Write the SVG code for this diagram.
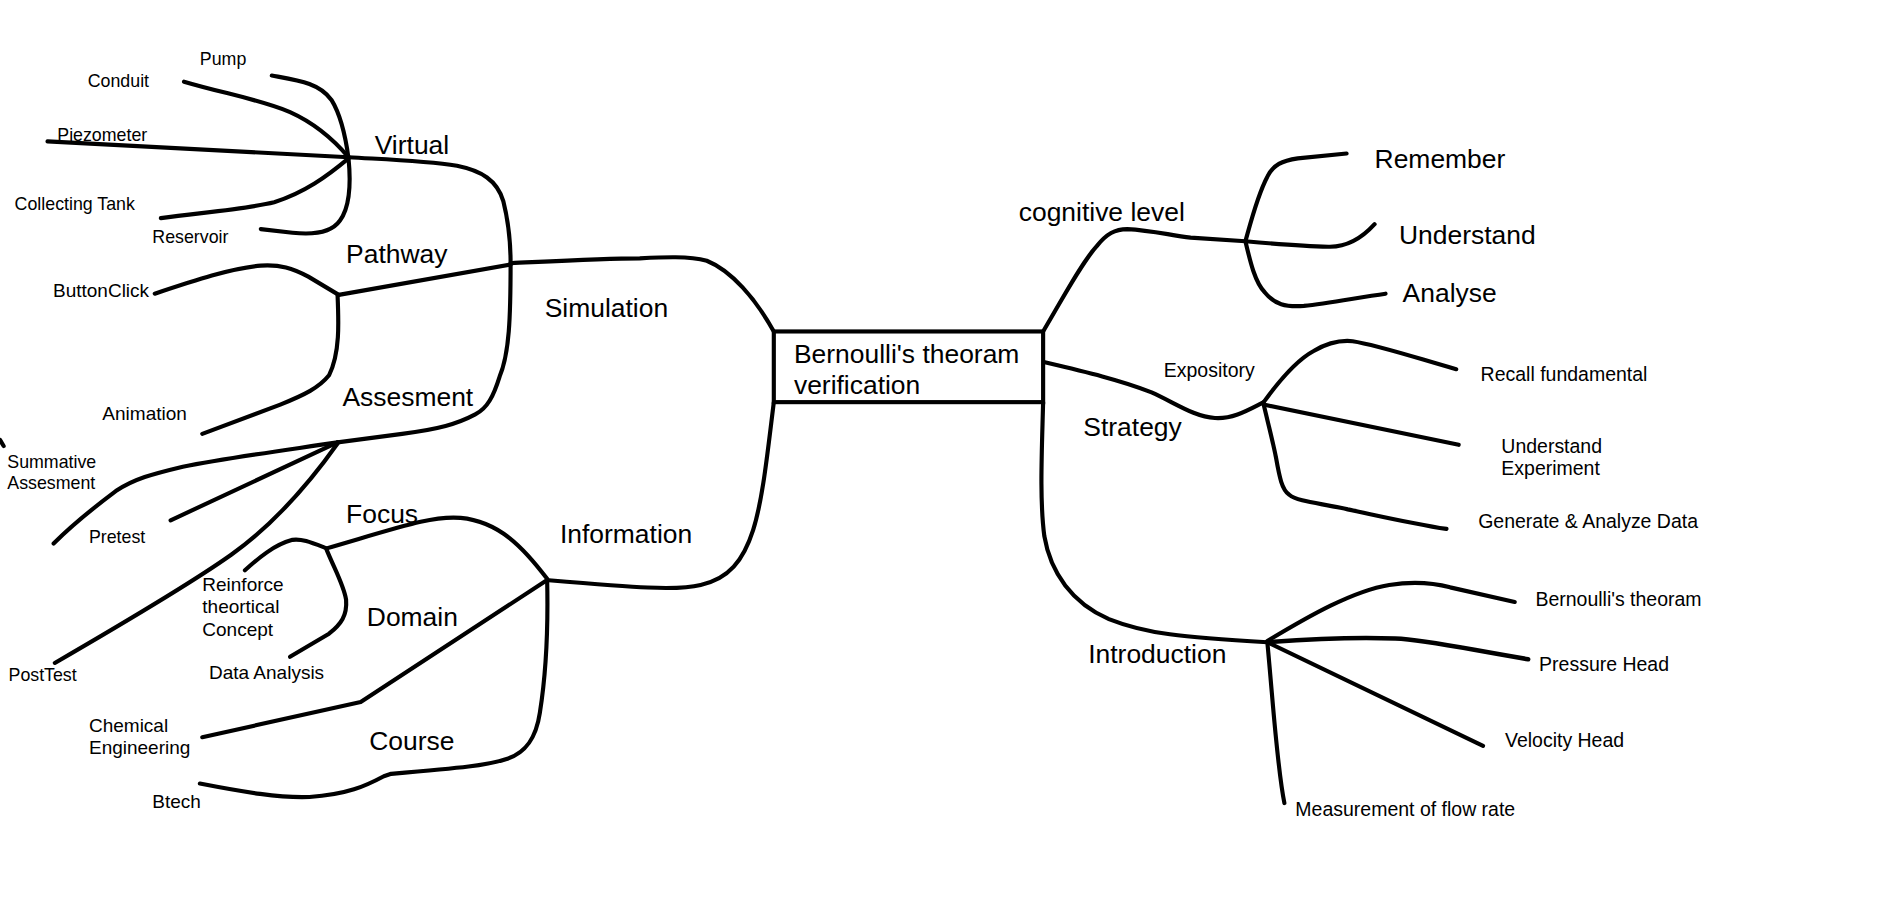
<svg xmlns="http://www.w3.org/2000/svg" width="1901" height="903" viewBox="0 0 1901 903">
<style>
.c{fill:none;stroke:#000;stroke-width:3.4;stroke-linecap:round;stroke-linejoin:round}
text{font-family:"Liberation Sans",Arial,sans-serif;fill:#000}
.big{font-size:21.7px}
.a{font-size:14.6px}
.b{font-size:15.6px}
.r{font-size:16px}
</style>
<rect width="1901" height="903" fill="#fff"/>
<g transform="scale(1.2186)">
<g id="connectors" class="c">
<path d="M635,272 C620,245 600,222 580,214 C565,210 545,211 525,212 C495,212 460,214 419,216"/>
<path d="M286,129 C320,131 350,132 375,136 C395,140 408,148 413,165 C418,185 419,200 419,216 C419,260 418,290 410,309 C405,325 400,335 390,340 C375,348 360,352 330,356 L277,363"/>
<path d="M419,217 L278,242"/>
<path d="M127,241 C160,230 190,220 214,218 C230,217 240,220 253,227 L278,242"/>
<path d="M277,242 C278,265 279,290 270,308 C262,318 250,324 230,332 L166,356"/>
<path d="M223,62 C245,66 262,68 272,82 C280,95 284,115 286,130 C288,150 287,170 279,181 C272,191 258,193 240,191 L214,188"/>
<path d="M151,67 C185,77 215,82 238,92 C258,101 275,116 286,129"/>
<path d="M39,116 L286,129"/>
<path d="M132,179 C170,174 205,171 225,166 C250,158 268,145 286,130"/>
<path d="M277,363 C230,370 185,376 150,383 C125,389 110,393 95,403 C75,418 60,430 44,446"/>
<path d="M277,363 L140,427"/>
<path d="M277,364 C255,395 225,430 190,455 C155,480 95,515 45,544"/>
<path d="M0,361 L3,366"/>
<path d="M635,330 C630,370 626,410 618,435 C610,460 598,475 575,480 C555,485 520,482 449,476"/>
<path d="M449,475 C430,450 410,428 378,425 C355,423 330,432 268,450"/>
<path d="M268,450 C255,445 248,442 240,443 C225,447 212,458 201,468"/>
<path d="M268,451 C275,468 282,480 284,492 C285,505 280,512 270,520 L238,539"/>
<path d="M449,476 L296,576 L166,605"/>
<path d="M449,476 C450,520 447,560 443,585 C440,605 432,618 415,623 C400,628 380,630 321,635 L315,637 C300,645 285,652 254,654 C230,655 200,650 164,643"/>
<path d="M856,272 C872,245 888,215 900,202 C908,192 915,188 925,188 C945,189 960,193 977,195 L1022,198"/>
<path d="M1022,198 C1027,180 1032,160 1040,145 C1045,135 1052,132 1065,130 L1105,126"/>
<path d="M1022,198 C1045,200 1070,202 1090,202.5 C1105,203 1118,195 1128,184"/>
<path d="M1022,198 C1026,215 1030,232 1038,240 C1046,250 1055,252 1070,251 C1090,249 1115,244 1137,241"/>
<path d="M856,297 C890,305 920,312 945,322 C965,331 980,342 997,343 C1012,344 1025,336 1037,330"/>
<path d="M1037,330 C1050,312 1065,295 1078,288 C1090,281 1100,279 1110,280 C1130,283 1160,293 1195,303"/>
<path d="M1037,332 L1197,365"/>
<path d="M1037,332 C1040,345 1044,360 1047,375 C1050,392 1052,402 1058,406 C1065,412 1085,413 1106,418 C1130,423 1160,430 1187,434"/>
<path d="M856,330 C855,370 853,410 857,440 C862,470 880,495 910,508 C940,520 970,523 1040,527"/>
<path d="M1040,526 C1075,505 1110,485 1140,480 C1160,477 1175,478 1190,482 L1243,494"/>
<path d="M1040,527 C1080,524 1120,523 1145,524 C1170,525 1200,532 1254,541" style="stroke-width:3.8"/>
<path d="M1040,527 L1217,612"/>
<path d="M1040,527 C1045,580 1048,630 1054,659"/>
</g>
<g id="root">
<rect x="635" y="272" width="221" height="58" fill="#fff" stroke="#000" stroke-width="3.4"/>
<text class="big" x="651.5" y="298">Bernoulli's theoram</text>
<text class="big" x="651.5" y="323.5">verification</text>
</g>
<g id="simulation"><text class="big" x="447" y="260">Simulation</text></g>
<g id="virtual"><text class="big" x="307.5" y="126">Virtual</text></g>
<g id="pathway"><text class="big" x="284" y="216">Pathway</text></g>
<g id="assesment"><text class="big" x="281" y="333">Assesment</text></g>
<g id="pump"><text class="a" x="164" y="53">Pump</text></g>
<g id="conduit"><text class="a" x="72" y="71">Conduit</text></g>
<g id="piezometer"><text class="a" x="47" y="116">Piezometer</text></g>
<g id="collecting-tank"><text class="a" x="12" y="172">Collecting Tank</text></g>
<g id="reservoir"><text class="a" x="125" y="199">Reservoir</text></g>
<g id="buttonclick"><text class="b" x="43.5" y="243.6">ButtonClick</text></g>
<g id="animation"><text class="b" x="84" y="345">Animation</text></g>
<g id="summative"><text class="a" x="6" y="384">Summative</text><text class="a" x="6" y="401">Assesment</text></g>
<g id="pretest"><text class="a" x="73" y="446">Pretest</text></g>
<g id="posttest"><text class="a" x="7" y="559">PostTest</text></g>
<g id="information"><text class="big" x="459.5" y="446">Information</text></g>
<g id="focus"><text class="big" x="284" y="429">Focus</text></g>
<g id="domain"><text class="big" x="301" y="514">Domain</text></g>
<g id="course"><text class="big" x="303" y="615.5">Course</text></g>
<g id="reinforce"><text class="b" x="166" y="485">Reinforce</text><text class="b" x="166" y="503">theortical</text><text class="b" x="166" y="522">Concept</text></g>
<g id="data-analysis"><text class="b" x="171.5" y="557">Data Analysis</text></g>
<g id="chemical"><text class="b" x="73" y="600.5">Chemical</text><text class="b" x="73" y="619">Engineering</text></g>
<g id="btech"><text class="b" x="125" y="663">Btech</text></g>
<g id="cognitive"><text class="big" x="836" y="181">cognitive level</text></g>
<g id="remember"><text class="big" x="1128" y="138">Remember</text></g>
<g id="understand"><text class="big" x="1148" y="200">Understand</text></g>
<g id="analyse"><text class="big" x="1151" y="248">Analyse</text></g>
<g id="strategy"><text class="big" x="889" y="358">Strategy</text></g>
<g id="expository"><text class="r" x="955" y="309">Expository</text></g>
<g id="recall"><text class="r" x="1215" y="313">Recall fundamental</text></g>
<g id="understand-exp"><text class="r" x="1232" y="372">Understand</text><text class="r" x="1232" y="390">Experiment</text></g>
<g id="generate"><text class="r" x="1213" y="433">Generate &amp; Analyze Data</text></g>
<g id="introduction"><text class="big" x="893" y="544">Introduction</text></g>
<g id="bernoulli"><text class="r" x="1260" y="497">Bernoulli's theoram</text></g>
<g id="pressure"><text class="r" x="1263" y="550.5">Pressure Head</text></g>
<g id="velocity"><text class="r" x="1235" y="613">Velocity Head</text></g>
<g id="measurement"><text class="r" x="1063" y="670">Measurement of flow rate</text></g>
</g>
</svg>
